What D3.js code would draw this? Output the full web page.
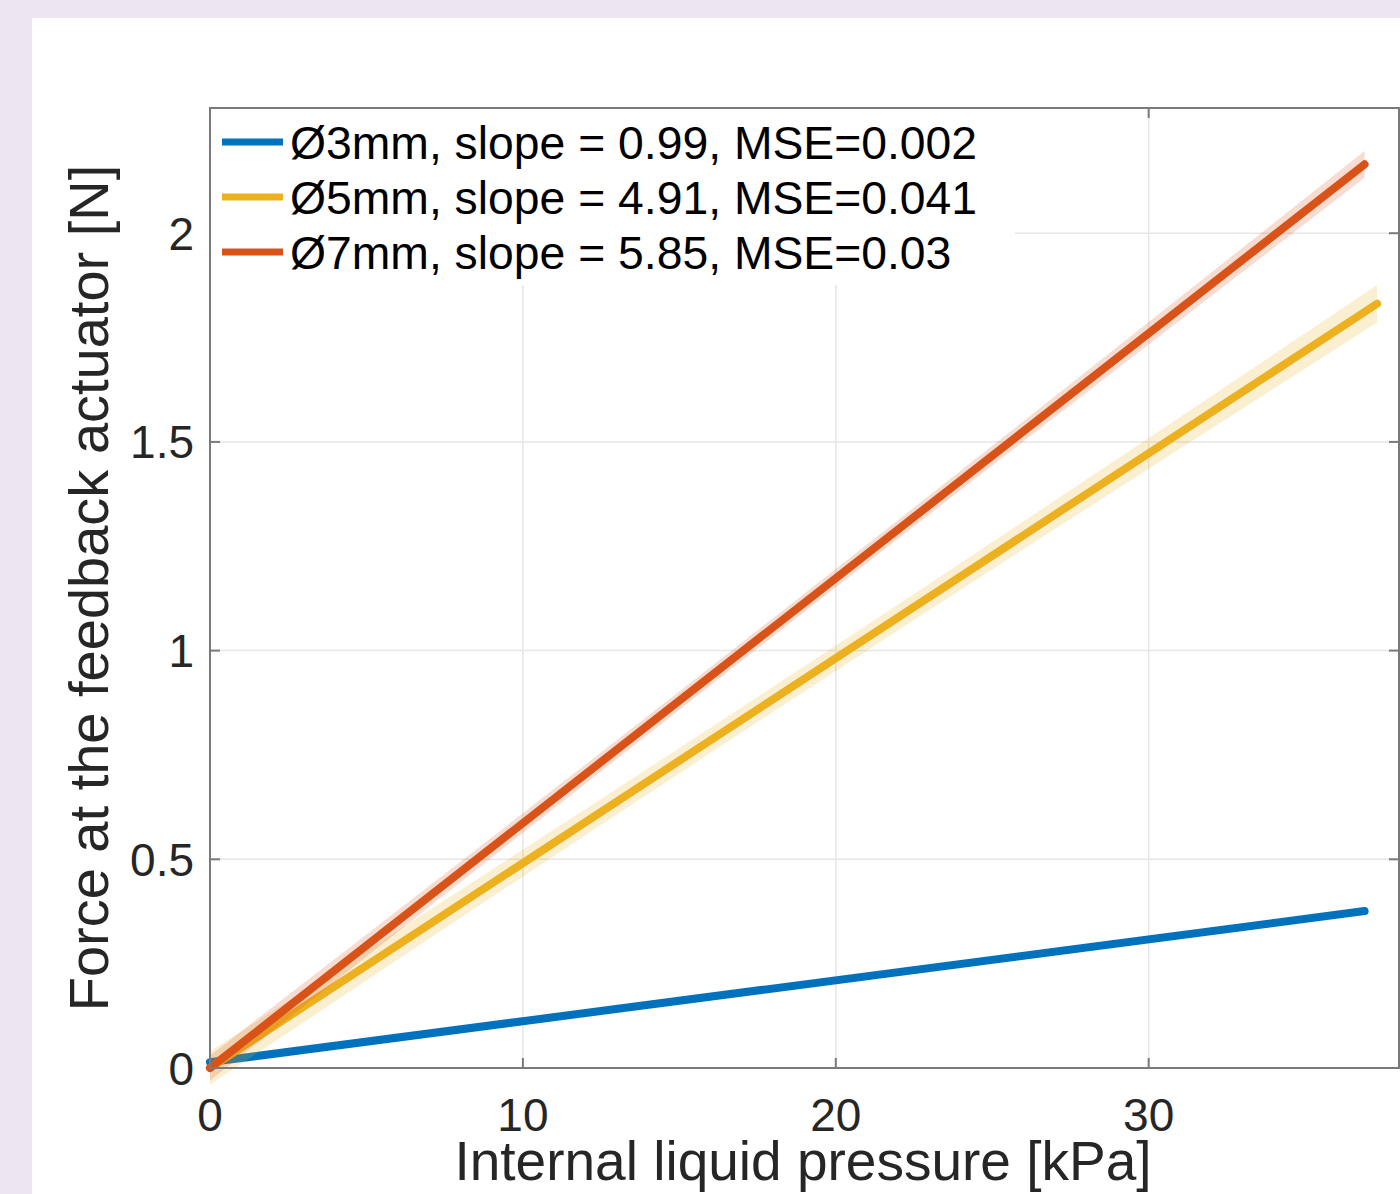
<!DOCTYPE html>
<html>
<head>
<meta charset="utf-8">
<script src="https://cdn.jsdelivr.net/npm/d3@7"></script>
<style>
  html, body { margin: 0; padding: 0; background: #ede5f1; }
  svg { display: block; }
</style>
</head>
<body>
<svg id="chart" width="1400" height="1194"></svg>
<script>
// Linear fits of force vs. internal pressure for three actuator diameters
const seriesLabels = [
  "Ø3mm, slope = 0.99, MSE=0.002",
  "Ø5mm, slope = 4.91, MSE=0.041",
  "Ø7mm, slope = 5.85, MSE=0.03"
];
const seriesColors = ["#0072bd", "#edb120", "#d95319"];

// fitted line end points (kPa, N)
const lineX0 = [0, 0, 0];
const lineX1 = [36.9, 37.3, 36.9];
const lineY0 = [0.014, 0.0, 0.0];
const lineY1 = [0.376, 1.831, 2.165];

// confidence band half-widths (N) at start, middle and end of each fit
const bandHalf = [
  [0.006, 0.004, 0.006],
  [0.040, 0.030, 0.045],
  [0.030, 0.022, 0.032]
];

const xTicks = [0, 10, 20, 30];
const yTicks = [0, 0.5, 1, 1.5, 2];
const xLabel = "Internal liquid pressure [kPa]";
const yLabel = "Force at the feedback actuator [N]";

const svg = d3.select("#chart");
const font = "'Liberation Sans', Arial, Helvetica, sans-serif";

// white figure panel
svg.append("rect").attr("x", 32).attr("y", 18).attr("width", 1400).attr("height", 1200).attr("fill", "#ffffff");

const L = 210, R = 1399, T = 108, B = 1068;
const x = d3.scaleLinear().domain([0, 38]).range([L, R]);
const y = d3.scaleLinear().domain([0, 2.3]).range([B, T]);

// grid
const grid = svg.append("g").attr("stroke", "#e6e6e6").attr("stroke-width", 1.5);
grid.selectAll("line.gx").data(xTicks.filter(d => d > 0)).join("line")
  .attr("x1", d => x(d)).attr("x2", d => x(d)).attr("y1", T).attr("y2", B);
grid.selectAll("line.gy").data(yTicks.filter(d => d > 0)).join("line")
  .attr("x1", L).attr("x2", R).attr("y1", d => y(d)).attr("y2", d => y(d));

// series: band then line, drawn in order
const plot = svg.append("g");
seriesLabels.forEach((name, i) => {
  const xm = (lineX0[i] + lineX1[i]) / 2;
  const fy = v => lineY0[i] + (lineY1[i] - lineY0[i]) * (v - lineX0[i]) / (lineX1[i] - lineX0[i]);
  const bx = [lineX0[i], xm, lineX1[i]];
  const band = bx.map((v, k) => ({ x: v, lo: fy(v) - bandHalf[i][k], hi: fy(v) + bandHalf[i][k] }));
  plot.append("path")
    .attr("d", d3.area().x(d => x(d.x)).y0(d => y(d.lo)).y1(d => y(d.hi)).curve(d3.curveMonotoneX)(band))
    .attr("fill", seriesColors[i]).attr("fill-opacity", 0.2);
  plot.append("path")
    .attr("d", d3.line().x(d => x(d[0])).y(d => y(d[1]))([[lineX0[i], lineY0[i]], [lineX1[i], lineY1[i]]]))
    .attr("fill", "none").attr("stroke", seriesColors[i]).attr("stroke-width", 8)
    .attr("stroke-linecap", "round");
});

// axes box
const axisColor = "#7a7a7a";
svg.append("rect").attr("x", L).attr("y", T).attr("width", R - L).attr("height", B - T)
  .attr("fill", "none").attr("stroke", axisColor).attr("stroke-width", 2);

// inward ticks on all four sides
const tl = 10;
const ticks = svg.append("g").attr("stroke", axisColor).attr("stroke-width", 2);
xTicks.forEach(t => {
  ticks.append("line").attr("x1", x(t)).attr("x2", x(t)).attr("y1", B).attr("y2", B - tl);
  ticks.append("line").attr("x1", x(t)).attr("x2", x(t)).attr("y1", T).attr("y2", T + tl);
});
yTicks.forEach(t => {
  ticks.append("line").attr("x1", L).attr("x2", L + tl).attr("y1", y(t)).attr("y2", y(t));
  ticks.append("line").attr("x1", R).attr("x2", R - tl).attr("y1", y(t)).attr("y2", y(t));
});

// tick labels
svg.append("g").selectAll("text").data(xTicks).join("text")
  .attr("x", d => x(d)).attr("y", 1131)
  .attr("text-anchor", "middle").attr("font-family", font).attr("font-size", 46)
  .attr("fill", "#262626").text(d => d3.format("")(d));
svg.append("g").selectAll("text").data(yTicks).join("text")
  .attr("x", 194).attr("y", d => y(d) + 16.5)
  .attr("text-anchor", "end").attr("font-family", font).attr("font-size", 46)
  .attr("fill", "#262626").text(d => d3.format("")(d));

// axis labels
svg.append("text").attr("x", 803).attr("y", 1180).attr("text-anchor", "middle")
  .attr("font-family", font).attr("font-size", 55).attr("fill", "#262626").text(xLabel);
svg.append("text").attr("transform", "translate(108,588) rotate(-90)").attr("text-anchor", "middle")
  .attr("font-family", font).attr("font-size", 56).attr("fill", "#262626").text(yLabel);

// legend
const leg = svg.append("g");
leg.append("rect").attr("x", L + 1).attr("y", T + 1).attr("width", 804).attr("height", 176).attr("fill", "#ffffff");
const rowY = [142, 197, 252];
seriesLabels.forEach((name, i) => {
  leg.append("line").attr("x1", 222).attr("x2", 283).attr("y1", rowY[i]).attr("y2", rowY[i])
    .attr("stroke", seriesColors[i]).attr("stroke-width", 7);
  leg.append("text").attr("x", 290).attr("y", rowY[i] + 17)
    .attr("font-family", font).attr("font-size", 46.3).attr("fill", "#000000").text(name);
});
</script>
</body>
</html>
